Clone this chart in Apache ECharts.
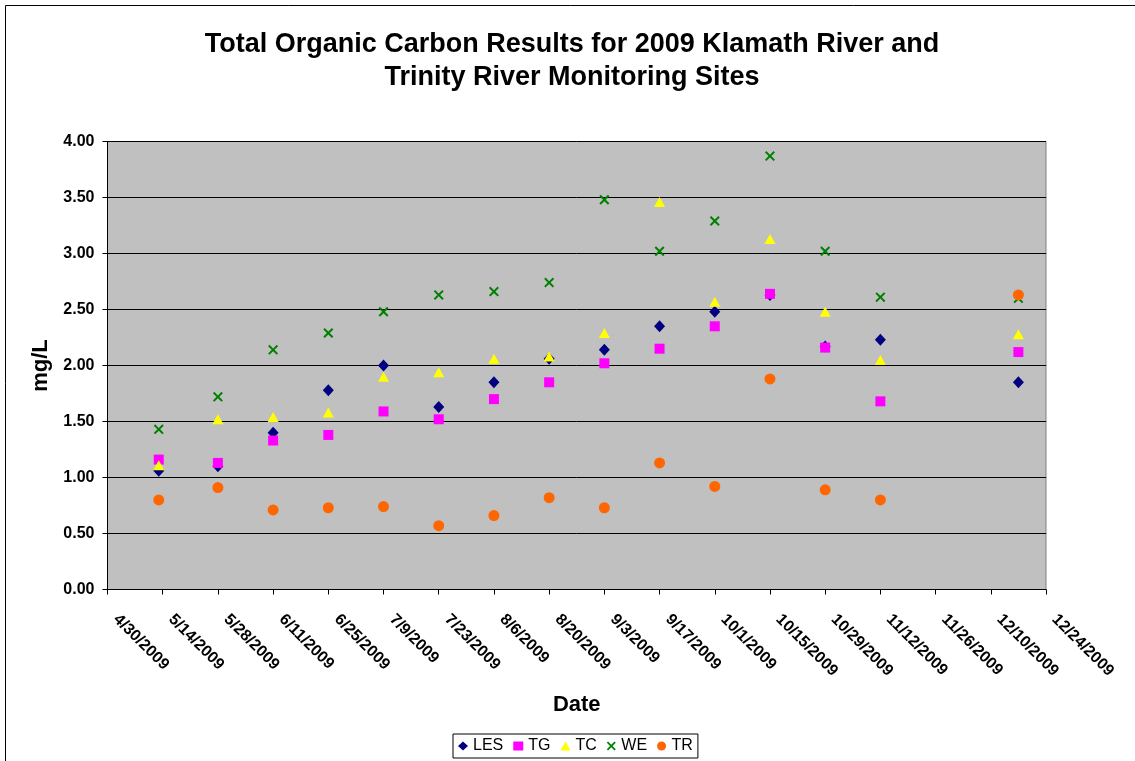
<!DOCTYPE html>
<html>
<head>
<meta charset="utf-8">
<script src="https://cdn.jsdelivr.net/npm/echarts@6/dist/echarts.min.js"></script>
<style>
  html, body { margin: 0; padding: 0; background: #fff; }
  #chart { width: 1135px; height: 761px; }
</style>
</head>
<body>
<div id="chart"></div>
<script>
// sampling dates
var sampleDates = ['2009-05-13', '2009-05-28', '2009-06-11', '2009-06-25', '2009-07-09',
  '2009-07-23', '2009-08-06', '2009-08-20', '2009-09-03', '2009-09-17',
  '2009-10-01', '2009-10-15', '2009-10-29', '2009-11-12', '2009-12-17']

// TOC in mg/L per site
var les = [1.06, 1.10, 1.40, 1.78, 2.00, 1.63, 1.85, 2.06, 2.14, 2.35, 2.48, 2.63, 2.17, 2.23, 1.85]
var tg = [1.16, 1.13, 1.33, 1.38, 1.59, 1.52, 1.70, 1.85, 2.02, 2.15, 2.35, 2.64, 2.16, 1.68, 2.12]
var tc = [1.11, 1.52, 1.54, 1.58, 1.90, 1.94, 2.06, 2.08, 2.29, 3.46, 2.57, 3.13, 2.48, 2.05, 2.28]
var we = [1.43, 1.72, 2.14, 2.29, 2.48, 2.63, 2.66, 2.74, 3.48, 3.02, 3.29, 3.87, 3.02, 2.61, 2.60]
var tr = [0.80, 0.91, 0.71, 0.73, 0.74, 0.57, 0.66, 0.82, 0.73, 1.13, 0.92, 1.88, 0.89, 0.80, 2.63]

// x axis tick labels, one every 14 days from 4/30/2009
var tickLabels = ['4/30/2009', '5/14/2009', '5/28/2009', '6/11/2009', '6/25/2009', '7/9/2009',
  '7/23/2009', '8/6/2009', '8/20/2009', '9/3/2009', '9/17/2009', '10/1/2009', '10/15/2009',
  '10/29/2009', '11/12/2009', '11/26/2009', '12/10/2009', '12/24/2009']

var FONT = 'Liberation Sans, Arial, sans-serif'
var startDay = Date.UTC(2009, 3, 30)

function dayOffset (s) {
  var p = s.split('-')
  return (Date.UTC(+p[0], +p[1] - 1, +p[2]) - startDay) / 86400000
}

function pairs (vals) {
  return vals.map(function (v, i) { return [dayOffset(sampleDates[i]), v] })
}

var xMark = 'path://M0,1.4L1.4,0L5,3.6L8.6,0L10,1.4L6.4,5L10,8.6L8.6,10L5,6.4L1.4,10L0,8.6L3.6,5Z'

var chart = echarts.init(document.getElementById('chart'))
chart.setOption({
  backgroundColor: '#fff',
  animation: false,
  title: {
    text: 'Total Organic Carbon Results for 2009 Klamath River and\nTrinity River Monitoring Sites',
    left: 572,
    top: 28,
    padding: 0,
    textAlign: 'center',
    textStyle: {fontFamily: FONT, fontSize: 27, fontWeight: 'bold', color: '#000', lineHeight: 33}
  },
  graphic: [{
    type: 'rect',
    shape: {x: 5.5, y: 5.5, width: 1200, height: 800},
    style: {fill: 'none', stroke: '#000', lineWidth: 1},
    silent: true
  }],
  legend: {
    left: 453,
    top: 734,
    padding: [4, 5],
    itemGap: 10,
    itemWidth: 10,
    itemHeight: 9,
    borderColor: '#000',
    borderWidth: 1,
    textStyle: {fontFamily: FONT, fontSize: 16, color: '#000'},
    data: ['LES', 'TG', 'TC', 'WE', 'TR']
  },
  grid: {
    left: 107.5,
    right: 89,
    top: 141.5,
    bottom: 171.5,
    show: true,
    backgroundColor: '#C0C0C0',
    borderColor: '#808080',
    borderWidth: 1
  },
  xAxis: {
    type: 'value',
    min: 0,
    max: 238,
    interval: 14,
    name: 'Date',
    nameLocation: 'middle',
    nameGap: 104,
    nameTextStyle: {fontFamily: FONT, fontSize: 22, fontWeight: 'bold', color: '#000'},
    axisLine: {lineStyle: {color: '#000', width: 1}},
    axisTick: {show: true, length: 5, lineStyle: {color: '#000'}},
    splitLine: {show: false},
    axisLabel: {
      rotate: -45,
      margin: 19,
      padding: [0, 0, 0, 12],
      fontFamily: FONT,
      fontSize: 16,
      fontWeight: 'bold',
      color: '#000',
      formatter: function (v) { return tickLabels[Math.round(v / 14)] }
    }
  },
  yAxis: {
    type: 'value',
    min: 0,
    max: 4,
    interval: 0.5,
    name: 'mg/L',
    nameLocation: 'middle',
    nameGap: 56,
    nameRotate: 90,
    nameTextStyle: {fontFamily: FONT, fontSize: 22, fontWeight: 'bold', color: '#000'},
    axisLine: {show: true, lineStyle: {color: '#000', width: 1}},
    axisTick: {show: true, length: 5, lineStyle: {color: '#000'}},
    splitLine: {show: true, lineStyle: {color: '#000', width: 1}},
    axisLabel: {
      margin: 13,
      fontFamily: FONT,
      fontSize: 16,
      fontWeight: 'bold',
      color: '#000',
      formatter: function (v) { return v.toFixed(2) }
    }
  },
  series: [
    {name: 'LES', type: 'scatter', symbol: 'diamond', symbolSize: [11, 12], itemStyle: {color: '#000080', opacity: 1}, data: pairs(les)},
    {name: 'TG', type: 'scatter', symbol: 'rect', symbolSize: 10, itemStyle: {color: '#FF00FF', opacity: 1}, data: pairs(tg)},
    {name: 'TC', type: 'scatter', symbol: 'triangle', symbolSize: [11, 10], itemStyle: {color: '#FFFF00', opacity: 1}, data: pairs(tc)},
    {name: 'WE', type: 'scatter', symbol: xMark, symbolSize: 10, itemStyle: {color: '#008000', opacity: 1}, data: pairs(we)},
    {name: 'TR', type: 'scatter', symbol: 'circle', symbolSize: 11, itemStyle: {color: '#FF6600', opacity: 1}, data: pairs(tr)}
  ]
})
</script>
</body>
</html>
